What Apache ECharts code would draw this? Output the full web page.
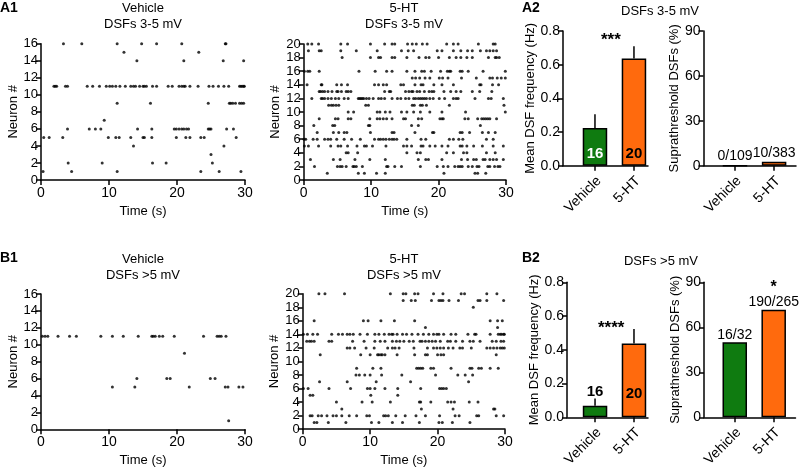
<!DOCTYPE html>
<html><head><meta charset="utf-8">
<script src="https://cdn.jsdelivr.net/npm/echarts@6/dist/echarts.min.js"></script>
<style>html,body{margin:0;padding:0;background:#fff}#c{width:800px;height:468px}</style>
</head><body><div id="c"></div><script>
const FONT = '"Liberation Sans", Arial, Helvetica, sans-serif';

// ---------- DATA ----------
const timeTicks = [0, 10, 20, 30];
const groups = ['Vehicle', '5-HT'];

// Raster rows: [neuron #, [event times in s]]
const a1Vehicle = [
  [16, [3.3, 6.0, 11.2, 14.8, 17.0, 20.7, 27.1, 27.2]],
  [15, [12.2, 23.2]],
  [14, [14.1, 21.0, 26.8, 29.8]],
  [11, [1.9, 2.1, 2.3, 3.6, 3.9, 6.8, 7.6, 8.6, 9.6, 10.1, 10.5, 11.0, 11.6, 12.4, 13.2, 13.6, 13.9, 14.5, 15.0, 15.2, 15.5, 16.4, 17.0, 18.7, 19.3, 20.3, 20.7, 21.0, 21.2, 21.9, 23.1, 24.7, 25.3, 26.1, 26.9, 27.6, 29.2, 29.4, 29.6, 29.8, 29.9]],
  [9, [11.2, 16.1, 24.6, 27.7, 27.9, 28.2, 28.6, 29.2, 29.5, 29.8]],
  [7, [9.3]],
  [6, [3.9, 7.1, 8.0, 8.8, 14.2, 16.3, 19.6, 19.9, 20.3, 20.7, 21.0, 21.4, 21.7, 24.6, 24.8, 25.0, 27.3, 28.3]],
  [5, [0.4, 1.2, 3.2, 9.9, 11.0, 11.5, 13.2, 15.0, 15.2, 16.3, 19.9, 21.3, 21.9, 23.5, 24.0, 28.7]],
  [4, [13.6, 26.9]],
  [3, [25.0]],
  [2, [4.0, 9.0, 16.4, 18.4, 25.2]],
  [1, [0.3, 4.5, 11.2, 23.5, 26.2, 29.4]]
];

const a1Serotonin = [
  [20, [0.6, 1.2, 2.2, 5.5, 6.5, 9.9, 12.0, 13.1, 13.5, 15.4, 16.1, 16.7, 17.6, 18.3, 21.2, 22.2, 22.9, 25.9, 28.1, 28.4]],
  [19, [0.7, 2.3, 2.6, 5.5, 7.8, 10.9, 14.5, 15.5, 16.3, 19.8, 20.5, 22.2, 23.3, 24.3, 25.0, 26.2, 27.1, 27.6, 28.1, 28.6]],
  [18, [5.7, 9.9, 11.1, 11.4, 13.1, 13.5, 15.3, 17.1, 18.1, 18.6, 20.0, 21.6, 22.6, 23.3, 24.2, 25.0, 27.4, 28.4, 28.6, 29.0]],
  [16, [0.1, 0.6, 0.9, 2.3, 8.2, 10.6, 12.3, 13.1, 15.3, 16.5, 17.5, 17.9, 18.9, 20.3, 21.3, 21.6, 21.8, 23.2, 23.5, 24.4, 26.6, 29.9]],
  [15, [16.1, 16.6, 17.2, 18.0, 18.7, 20.1, 20.6, 21.4, 23.4, 25.6, 27.6, 28.0, 28.7, 29.3, 29.9]],
  [14, [0.5, 2.6, 2.7, 4.9, 5.6, 6.5, 10.5, 11.1, 11.8, 12.3, 14.4, 14.8, 16.5, 17.4, 17.7, 19.3, 20.5, 22.2, 26.1, 26.3, 28.0, 28.9]],
  [13, [2.3, 2.5, 2.8, 3.1, 3.6, 4.2, 4.9, 5.1, 5.6, 6.3, 6.6, 7.0, 12.0, 12.7, 12.9, 15.1, 15.6, 16.0, 16.2, 16.8, 17.2, 17.9, 18.6, 19.0, 19.3, 20.8, 21.8, 22.6, 23.3, 25.0, 26.1, 27.9]],
  [12, [1.2, 2.6, 2.8, 3.1, 3.6, 4.1, 4.7, 5.2, 6.0, 6.6, 8.1, 8.3, 8.5, 8.7, 8.9, 9.3, 9.7, 10.3, 11.1, 11.5, 12.0, 13.1, 13.9, 14.4, 15.1, 15.6, 16.3, 16.6, 17.0, 17.3, 17.6, 17.9, 18.2, 18.7, 19.2, 20.1, 20.9, 22.2, 22.6, 22.9, 25.4, 27.4, 27.8, 29.6]],
  [11, [3.7, 4.1, 4.4, 4.8, 5.2, 9.2, 9.6, 16.1, 16.4, 17.3, 17.6, 18.2, 21.6, 29.7]],
  [10, [6.6, 7.4, 10.9, 11.3, 12.1, 12.8, 14.5, 15.3, 16.3, 17.3, 18.7, 20.5, 24.0, 29.9]],
  [9, [2.3, 4.7, 5.1, 6.6, 7.0, 9.8, 10.9, 11.3, 11.8, 12.3, 13.1, 14.8, 15.1, 17.0, 17.5, 20.2, 20.5, 20.7, 23.9, 24.4, 25.8, 26.4, 26.7, 27.0, 27.3, 27.6, 28.6]],
  [8, [1.5, 4.3, 4.6, 9.6, 9.8, 16.0, 17.0, 26.2]],
  [7, [2.0, 4.4, 5.2, 6.0, 6.4, 9.9, 13.1, 13.4, 16.5, 19.1, 19.3, 23.2, 23.5, 24.6, 26.5, 27.4, 28.4]],
  [6, [0.05, 0.3, 1.4, 2.0, 3.1, 3.6, 4.0, 4.9, 6.0, 7.1, 8.4, 10.5, 11.1, 11.4, 11.8, 12.2, 12.7, 13.1, 13.4, 13.8, 15.3, 17.4, 18.1, 21.6, 22.2, 23.0, 23.6, 27.1, 28.1]],
  [5, [0.1, 0.7, 2.2, 4.0, 5.1, 5.5, 6.5, 7.9, 9.0, 9.3, 10.2, 12.2, 14.8, 15.3, 16.0, 17.4, 17.7, 18.7, 19.5, 20.5, 21.4, 23.2, 23.5, 24.2, 25.2, 26.5, 28.1, 29.6]],
  [4, [6.3, 6.6, 8.0, 15.3, 16.8, 17.3, 21.2, 22.2, 23.7, 24.2, 27.1, 28.4]],
  [3, [1.0, 4.4, 5.4, 7.6, 9.8, 12.1, 17.0, 18.1, 18.5, 20.5, 23.4, 24.3, 25.2, 25.6, 26.6, 26.9, 27.6, 28.1, 28.6, 29.6]],
  [2, [1.6, 5.0, 5.4, 5.7, 6.3, 7.3, 7.5, 7.8, 8.7, 12.3, 12.5, 13.5, 14.5, 17.3, 19.8, 20.7, 21.4, 22.4, 22.9, 23.2, 23.5, 24.4, 25.0, 25.7, 26.0, 27.3, 27.6, 28.3, 28.8, 29.1]],
  [1, [3.5, 8.1, 9.0, 10.8, 12.1, 20.8, 25.4, 25.8, 27.0]]
];

const b1Vehicle = [
  [11, [0.2, 0.6, 1.0, 2.5, 4.2, 5.2, 8.8, 10.5, 12.1, 14.3, 16.3, 16.5, 16.8, 17.4, 17.9, 19.6, 23.9, 25.9, 26.2, 26.5, 27.2]],
  [9, [21.1]],
  [6, [14.1, 18.5, 19.0, 24.9, 25.6]],
  [5, [10.5, 13.8, 21.8, 27.1, 27.5, 29.1, 29.7]],
  [1, [27.6]]
];

const b1Serotonin = [
  [20, [2.4, 3.3, 6.2, 13.0, 14.9, 15.3, 16.6, 17.1, 19.4, 20.8, 23.5, 24.0, 27.3, 28.8]],
  [19, [14.9, 16.1, 16.7, 19.1, 20.2, 20.5, 20.8, 21.7, 23.1, 26.0, 26.3, 27.3, 29.8]],
  [18, [25.3]],
  [16, [1.7, 9.0, 9.7, 11.6, 13.6, 16.6, 27.8, 28.9, 29.6]],
  [15, [18.2, 28.9]],
  [14, [0.1, 0.7, 1.5, 2.2, 4.3, 5.3, 5.9, 6.6, 7.0, 7.5, 8.5, 9.6, 10.7, 11.3, 12.1, 12.8, 13.2, 13.4, 14.0, 14.8, 15.4, 16.2, 17.1, 17.9, 18.7, 19.4, 19.9, 20.2, 20.9, 22.0, 22.7, 24.5, 25.5, 25.7, 27.8, 29.0, 29.3, 29.5, 29.8, 29.9]],
  [13, [0.6, 1.0, 1.3, 1.7, 3.9, 4.3, 7.4, 9.1, 10.7, 11.5, 12.2, 13.3, 13.9, 14.4, 15.0, 15.8, 16.4, 17.4, 17.7, 18.2, 18.7, 19.2, 19.7, 20.4, 21.5, 21.9, 22.7, 23.7, 24.8, 25.3, 26.3, 28.1, 28.7, 29.4, 29.8]],
  [12, [6.6, 7.0, 7.7, 9.4, 10.6, 12.6, 13.3, 13.7, 14.3, 16.5, 18.5, 19.4, 19.9, 20.4, 20.9, 21.6, 22.3, 23.3, 23.7, 25.0, 27.3, 27.8, 28.3, 28.8, 29.3, 29.6, 29.9]],
  [11, [2.6, 8.6, 10.0, 11.1, 11.3, 11.6, 11.8, 12.2, 14.0, 16.6, 18.2, 18.5, 20.0, 20.5, 20.9, 28.7]],
  [9, [8.0, 10.4, 11.6, 16.9, 17.2, 17.5, 17.8, 19.0, 19.4, 22.0, 24.8, 25.1, 26.1, 26.5, 27.8, 29.0]],
  [8, [7.9, 8.4, 9.2, 10.0, 11.7, 14.7, 19.7, 23.0, 24.1, 25.2]],
  [7, [2.5, 6.6, 10.9, 16.0, 24.6]],
  [6, [0.1, 0.8, 3.9, 7.1, 9.6, 10.0, 10.7, 12.2, 14.1, 17.5, 20.3, 20.6, 20.9, 21.3]],
  [5, [1.1, 1.5, 10.1, 14.1]],
  [4, [5.0, 8.8, 10.3, 13.0, 17.3, 17.5, 19.0, 21.5, 22.0, 22.5, 24.7, 26.0]],
  [3, [5.8, 17.6, 22.3, 28.3, 28.5]],
  [2, [1.1, 1.4, 2.3, 2.8, 3.6, 4.5, 5.0, 5.8, 6.9, 8.0, 9.5, 9.9, 12.0, 12.3, 12.7, 13.8, 15.2, 16.8, 18.2, 20.3, 22.6, 23.2, 25.8, 26.1, 28.7, 29.8]],
  [1, [1.7, 2.1, 3.8, 6.4, 10.2, 11.3, 13.3, 14.8, 17.3, 20.2, 20.7, 22.2, 24.8]]
];

// Bar panels
const cellCounts = [16, 20];
const freq35 = [0.224, 0.636];
const freq35Sem = [0.081, 0.073];
const supra35 = [0, 2.6];
const supra35Text = ['0/109', '10/383'];
const freq5 = [0.069, 0.438];
const freq5Sem = [0.042, 0.085];
const supra5 = [50, 71.7];
const supra5Text = ['16/32', '190/265'];

// ---------- STYLE ----------
const GREEN = '#0f7b10';
const ORANGE = '#ff6a0d';
const barColors = [GREEN, ORANGE];
const AX = { color: '#000', width: 1.5 };

function toPoints(rows) {
  const pts = [];
  rows.forEach(([n, ts]) => ts.forEach(t => pts.push([t, n])));
  return pts;
}

const grids = [
  { left: 41, top: 43.7, width: 204, height: 136.3 },    // 0 A1 veh
  { left: 303.7, top: 44, width: 202.3, height: 136 },    // 1 A1 5-HT
  { left: 563, top: 31, width: 85, height: 134.7 },       // 2 A2 freq
  { left: 703.5, top: 31, width: 92.5, height: 134.7 },   // 3 A2 supra
  { left: 41, top: 294, width: 204, height: 135.3 },      // 4 B1 veh
  { left: 302.7, top: 293.7, width: 202.3, height: 135.5 }, // 5 B1 5-HT
  { left: 567, top: 282.3, width: 81, height: 135 },      // 6 B2 freq
  { left: 704, top: 282.3, width: 91.5, height: 135 }     // 7 B2 supra
].map(g => Object.assign({ outerBoundsMode: 'none', containLabel: false }, g));

function rasterX(gi) {
  return {
    gridIndex: gi, type: 'value', min: timeTicks[0], max: timeTicks[timeTicks.length - 1], interval: 10,
    axisLine: { show: true, lineStyle: AX }, axisTick: { show: true, length: 5, lineStyle: AX },
    axisLabel: { color: '#000', fontSize: 14, margin: 6, fontFamily: FONT },
    splitLine: { show: false },
    name: 'Time (s)', nameLocation: 'middle', nameGap: 25,
    nameTextStyle: { color: '#000', fontSize: 13, fontFamily: FONT }
  };
}
function rasterY(gi, max) {
  return {
    gridIndex: gi, type: 'value', min: 0, max: max, interval: 2,
    axisLine: { show: true, lineStyle: AX }, axisTick: { show: true, length: 5, lineStyle: AX },
    axisLabel: { color: '#000', fontSize: 13, margin: 3, fontFamily: FONT },
    splitLine: { show: false },
    name: 'Neuron #', nameLocation: 'middle', nameGap: 21,
    nameTextStyle: { color: '#000', fontSize: 13, fontFamily: FONT }
  };
}
function barX(gi, min, max) {
  return {
    gridIndex: gi, type: 'value', min: min, max: max,
    axisLine: { show: true, lineStyle: AX },
    axisTick: { show: true, length: 5, lineStyle: AX, customValues: [1, 2] },
    axisLabel: { show: false },
    splitLine: { show: false }
  };
}
function barY(gi, max, interval, name, gap, decimals) {
  return {
    gridIndex: gi, type: 'value', min: 0, max: max, interval: interval,
    axisLine: { show: true, lineStyle: AX }, axisTick: { show: true, length: 5, lineStyle: AX },
    axisLabel: { color: '#000', fontSize: 14, margin: 3, fontFamily: FONT,
      formatter: v => v.toFixed(decimals) },
    splitLine: { show: false },
    name: name, nameLocation: 'middle', nameGap: gap,
    nameTextStyle: { color: '#000', fontSize: 13, fontFamily: FONT }
  };
}

function raster(gi, rows) {
  return { type: 'scatter', xAxisIndex: gi, yAxisIndex: gi, data: toPoints(rows),
    symbol: 'circle', symbolSize: 3, itemStyle: { color: '#000' }, silent: true };
}
function bars(gi, vals, labelFn) {
  return { type: 'bar', xAxisIndex: gi, yAxisIndex: gi, barWidth: 24.5,
    data: vals.map((v, i) => Object.assign({ value: [i + 1, v],
      itemStyle: { color: barColors[i], borderColor: '#000', borderWidth: 1.5 } }, labelFn ? { label: labelFn(i) } : {})) };
}
function errBars(gi, vals, sems) {
  return { type: 'custom', xAxisIndex: gi, yAxisIndex: gi, z: 5,
    data: vals.map((v, i) => [i + 1, v, sems[i]]),
    encode: { x: 0, y: 1 },
    renderItem: (params, api) => {
      const x = api.value(0), v = api.value(1), e = api.value(2);
      const p0 = api.coord([x, v]), p1 = api.coord([x, v + e]);
      return { type: 'line', shape: { x1: p0[0], y1: p0[1], x2: p1[0], y2: p1[1] },
        style: { stroke: '#000', lineWidth: 1.5 } };
    } };
}
// Category names under the bars, rotated 45°, drawn at the axis position of each group
function groupLabels(gi) {
  return { type: 'custom', xAxisIndex: gi, yAxisIndex: gi, z: 5, silent: true,
    data: groups.map((g, i) => [i + 1, 0]),
    encode: { x: 0, y: 1 },
    renderItem: (params, api) => {
      const p = api.coord([api.value(0), 0]);
      return { type: 'text', x: p[0] + 4, y: p[1] + 13, rotation: Math.PI / 4,
        style: { text: groups[params.dataIndex], align: 'right', verticalAlign: 'middle',
          fontSize: 14, fontFamily: FONT, fill: '#000' } };
    } };
}

const boldNum = { fontSize: 15, fontWeight: 'bold', fontFamily: FONT };

const titleStyle = { color: '#000', fontSize: 13, fontWeight: 'normal', fontFamily: FONT, lineHeight: 16 };
const letterStyle = { color: '#000', fontSize: 14, fontWeight: 'bold', fontFamily: FONT };
const titles = [
  { text: 'Vehicle\nDSFs 3-5 mV', left: 143, top: 0, textAlign: 'center' },
  { text: '5-HT\nDSFs 3-5 mV', left: 404, top: 0, textAlign: 'center' },
  { text: 'DSFs 3-5 mV', left: 660, top: 3, textAlign: 'center' },
  { text: 'Vehicle\nDSFs >5 mV', left: 143, top: 251, textAlign: 'center' },
  { text: '5-HT\nDSFs >5 mV', left: 404, top: 251, textAlign: 'center' },
  { text: 'DSFs >5 mV', left: 661, top: 253, textAlign: 'center' }
].map(t => Object.assign({ padding: 0, textStyle: titleStyle }, t));
const letters = [
  { text: 'A1', left: 0, top: 1 }, { text: 'B1', left: 0, top: 251 },
  { text: 'A2', left: 522, top: 1 }, { text: 'B2', left: 522, top: 251 }
].map(t => Object.assign({ padding: 0, textStyle: letterStyle }, t));

const option = {
  animation: false,
  backgroundColor: '#fff',
  title: titles.concat(letters),
  grid: grids,
  xAxis: [rasterX(0), rasterX(1), barX(2, 0.18, 2.36), barX(3, 0.195, 2.56),
          rasterX(4), rasterX(5), barX(6, 0.28, 2.36), barX(7, 0.21, 2.56)],
  yAxis: [rasterY(0, 16), rasterY(1, 20),
          barY(2, 0.8, 0.2, 'Mean DSF frequency (Hz)', 23, 1),
          barY(3, 90, 30, 'Suprathreshold DSFs (%)', 12, 0),
          rasterY(4, 16), rasterY(5, 20),
          barY(6, 0.8, 0.2, 'Mean DSF frequency (Hz)', 26, 1),
          barY(7, 90, 30, 'Suprathreshold DSFs (%)', 13, 0)],
  series: [
    raster(0, a1Vehicle), raster(1, a1Serotonin), raster(4, b1Vehicle), raster(5, b1Serotonin),
    bars(2, freq35, i => Object.assign({ show: true, position: 'insideBottom', distance: 4,
      formatter: String(cellCounts[i]), color: i === 0 ? '#fff' : '#000' }, boldNum)),
    errBars(2, freq35, freq35Sem),
    bars(3, supra35, i => ({ show: true, position: 'top', distance: 2, formatter: supra35Text[i],
      color: '#000', fontSize: 14, fontFamily: FONT })),
    bars(6, freq5, i => Object.assign(i === 0
      ? { show: true, position: 'top', distance: 6, formatter: String(cellCounts[i]), color: '#000' }
      : { show: true, position: 'insideBottom', distance: 16, formatter: String(cellCounts[i]), color: '#000' }, boldNum)),
    errBars(6, freq5, freq5Sem),
    bars(7, supra5, i => ({ show: true, position: 'top', distance: 0,
      formatter: i === 0 ? supra5Text[i] : '{s|*}\n' + supra5Text[i],
      color: '#000', fontSize: 14, fontFamily: FONT, lineHeight: 15,
      rich: { s: { fontSize: 16, fontWeight: 'bold', fontFamily: FONT, lineHeight: 14, color: '#000' } } })),
    groupLabels(2), groupLabels(3), groupLabels(6), groupLabels(7)
  ],
  graphic: [
    { type: 'text', left: 601, top: 32, style: { text: '***', fontSize: 17, fontWeight: 'bold', fill: '#000', fontFamily: FONT } },
    { type: 'text', left: 598, top: 320, style: { text: '****', fontSize: 17, fontWeight: 'bold', fill: '#000', fontFamily: FONT } }
  ]
};

const chart = echarts.init(document.getElementById('c'), null, { renderer: 'canvas' });
chart.setOption(option);
</script></body></html>
